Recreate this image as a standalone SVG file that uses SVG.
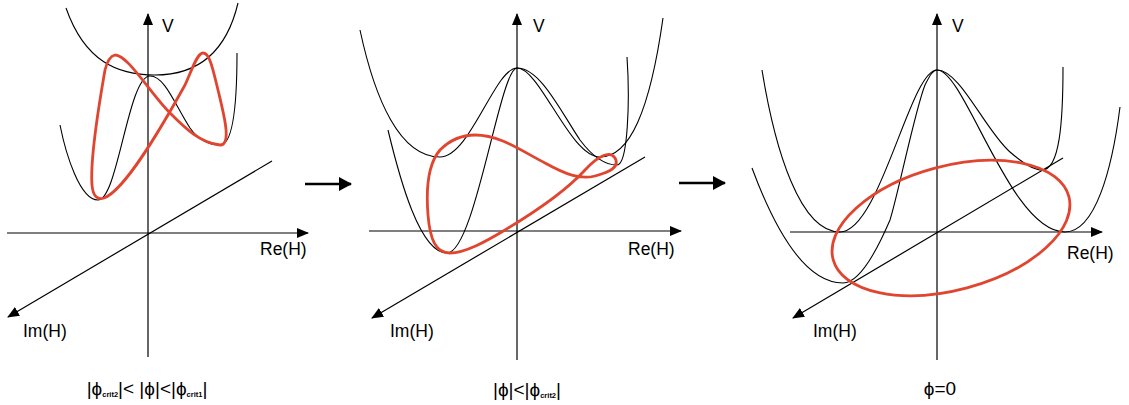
<svg xmlns="http://www.w3.org/2000/svg" width="1129" height="405" viewBox="0 0 1129 405">
<style>
.ax{stroke:#000;stroke-width:1.2;fill:none}
.cv{stroke:#000;stroke-width:1.1;fill:none}
.rd{stroke:#e0452f;stroke-width:2.8;fill:none}
.lb{font-family:"Liberation Sans",Arial,sans-serif;font-size:17.5px;fill:#000}
.bl{font-family:"Liberation Sans","DejaVu Sans",Arial,sans-serif;font-size:19px;fill:#000}
.sb{font-size:7.5px;font-weight:bold}
.tr{stroke:#000;stroke-width:2.4;fill:none}
</style>
<defs>
<marker id="ah" viewBox="0 0 12 10" refX="11" refY="5" markerWidth="12" markerHeight="10" orient="auto" markerUnits="userSpaceOnUse"><path d="M0,0 L12,5 L0,10 Z" fill="#000"/></marker>
<marker id="bh" viewBox="0 0 13 14" refX="12" refY="7" markerWidth="13" markerHeight="14" orient="auto" markerUnits="userSpaceOnUse"><path d="M0,0 L13,7 L0,14 Z" fill="#000"/></marker>
</defs>
<rect width="1129" height="405" fill="#fff"/>

<g id="panel1">
<line class="ax" x1="148" y1="357" x2="148" y2="14" marker-end="url(#ah)"/>
<line class="ax" x1="7" y1="233" x2="308" y2="233" marker-end="url(#ah)"/>
<line class="ax" x1="272" y1="161" x2="8" y2="317" marker-end="url(#ah)"/>
<path class="cv" d="M66,8 C85,62 118,75 155,75 C192,75 225,58 238,3"/>
<path class="cv" d="M60,125 C66,155 80,200 98,200 C118,200 128,76 150,76 C165,76 175,105 190,128 C200,142 210,145 220,145 C232,145 237,110 237,53"/>
<path class="rd" d="M115,55 C110,56 107,62 105,70 C98,110 90,160 92,185 C93,197 98,200 104,198 C125,190 160,130 185,85 C192,70 197,53 203,53 C210,53 213,70 218,90 C224,115 232,145 220,145 C200,143 185,128 170,113 C150,93 128,55 115,55 Z"/>
<text class="lb" x="162" y="32" font-size="19">V</text>
<text class="lb" x="260" y="255">Re(H)</text>
<text class="lb" x="23" y="337">Im(H)</text>
<text class="bl" x="147" y="395" text-anchor="middle">|ϕ<tspan class="sb" dy="2">crit2</tspan><tspan dy="-2">|&lt; |ϕ|&lt;|ϕ</tspan><tspan class="sb" dy="2">crit1</tspan><tspan dy="-2">|</tspan></text>
</g>

<g id="panel2">
<line class="ax" x1="517" y1="360" x2="517" y2="14" marker-end="url(#ah)"/>
<line class="ax" x1="369" y1="231" x2="681" y2="231" marker-end="url(#ah)"/>
<line class="ax" x1="645" y1="157" x2="372" y2="318" marker-end="url(#ah)"/>
<path class="cv" d="M360,30 C375,100 400,157 440,157 C470,157 495,68 517,68 C540,68 570,157 600,157 C630,157 650,110 663,18"/>
<path class="cv" d="M388,130 C400,180 420,253 447,253 C475,253 500,68 517,68 C540,68 560,110 580,140 C595,160 607,165 617,165 C628,165 630,100 627,57"/>
<path class="rd" d="M450,253 C436,253 430,240 428,215 C426,190 427,165 440,150 C450,140 462,135 475,135 C500,135 520,150 545,163 C565,174 580,180 595,176 C610,172 620,167 615,158 C610,150 598,156 585,170 C565,192 530,215 505,230 C485,242 465,253 450,253 Z"/>
<text class="lb" x="533" y="32" font-size="19">V</text>
<text class="lb" x="628" y="255">Re(H)</text>
<text class="lb" x="390" y="337">Im(H)</text>
<text class="bl" x="527" y="396" text-anchor="middle">|ϕ|&lt;|ϕ<tspan class="sb" dy="2">crit2</tspan><tspan dy="-2">|</tspan></text>
</g>

<g id="panel3">
<line class="ax" x1="937" y1="360" x2="937" y2="14" marker-end="url(#ah)"/>
<line class="ax" x1="790" y1="232" x2="1102" y2="232" marker-end="url(#ah)"/>
<line class="ax" x1="1063" y1="158" x2="793" y2="318" marker-end="url(#ah)"/>
<path class="cv" d="M762,70 C775,150 800,232 840,232 C880,232 910,70 937,70 C965,70 1010,232 1065,232 C1095,232 1112,170 1120,107"/>
<path class="cv" d="M752,168 C775,230 805,283 843,283 C858,283 875,255 890,220 C898,195 915,110 925,85 C930,75 933,70 937,70 C960,70 985,130 1010,152 C1025,165 1035,170 1042,170 C1060,170 1063,120 1063,67"/>
<ellipse class="rd" cx="951" cy="228" rx="122" ry="62" transform="rotate(-15 951 228)"/>
<text class="lb" x="952" y="32" font-size="19">V</text>
<text class="lb" x="1067" y="259">Re(H)</text>
<text class="lb" x="813" y="337">Im(H)</text>
<text class="bl" x="940" y="395" text-anchor="middle">ϕ=0</text>
</g>

<g id="connectors">
<line class="tr" x1="305" y1="184" x2="351" y2="184" marker-end="url(#bh)"/>
<line class="tr" x1="679" y1="183" x2="725" y2="183" marker-end="url(#bh)"/>
</g>
</svg>
